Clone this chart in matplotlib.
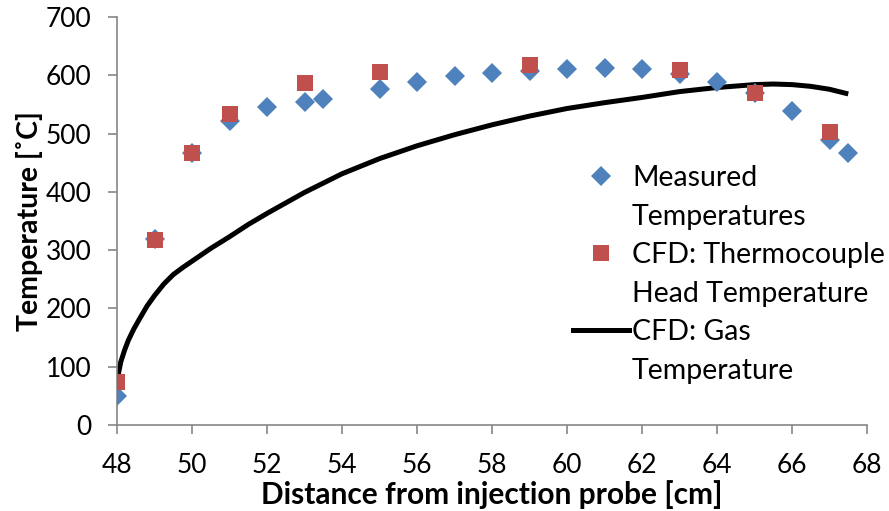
import matplotlib
matplotlib.use("Agg")
import matplotlib.pyplot as plt
from matplotlib.lines import Line2D

plt.rcParams['font.family'] = ['Lato', 'DejaVu Sans']

# Measured temperatures
meas_x = [48, 49, 50, 51, 52, 53, 53.5, 55, 56, 57, 58, 59, 60, 61, 62, 63, 64, 65, 66, 67, 67.5]
meas_y = [50, 319, 466, 522, 545, 555, 559, 577, 589, 599, 604, 607, 610, 612, 610, 603, 589, 569, 538, 489, 467]

# CFD: thermocouple head temperature
cfd_tc_x = [48, 49, 50, 51, 53, 55, 59, 63, 65, 67]
cfd_tc_y = [74, 318, 466, 533, 586, 605, 617, 609, 570, 503]

# CFD: gas temperature
gas_x = [48.0, 48.05, 48.1, 48.2, 48.3, 48.45, 48.6, 48.8, 49.0, 49.25, 49.5, 49.75, 50, 50.5,
         51, 51.5, 52, 53, 54, 55, 56, 57, 58, 59, 60, 61, 62, 63, 64, 65, 65.5, 66, 66.5, 67, 67.5]
gas_y = [75, 92, 108, 128, 145, 165, 182, 204, 222, 242, 258, 270, 281, 303,
         323, 344, 363, 399, 431, 457, 479, 498, 515, 530, 543,
         553, 562, 572, 579, 584, 585, 584, 581, 576, 568]

x_ticks = list(range(48, 69, 2))
y_ticks = list(range(0, 701, 100))

blue = '#4F81BD'
red = '#C0504D'
grey = '#868686'

fig = plt.figure(figsize=(8.89, 5.11), dpi=100)
ax = fig.add_axes([117/889, 1 - 425/511, 750/889, 408/511])

ax.plot(gas_x, gas_y, color='black', lw=3.6, zorder=2, solid_capstyle='butt')
ax.plot(meas_x, meas_y, linestyle='none', marker='D', ms=10, color=blue, mew=0, zorder=3)
ax.plot(cfd_tc_x, cfd_tc_y, linestyle='none', marker='s', ms=11, color=red, mew=0, zorder=4)

ax.set_xlim(48, 68)
ax.set_ylim(0, 700)
ax.set_xticks(x_ticks)
ax.set_yticks(y_ticks)
for s in ['top', 'right']:
    ax.spines[s].set_visible(False)
for s in ['left', 'bottom']:
    ax.spines[s].set_color(grey)
    ax.spines[s].set_linewidth(1.2)
ax.tick_params(axis='y', direction='out', length=6.5, width=1.2, color=grey,
               labelsize=19, labelcolor='black', pad=12)
ax.tick_params(axis='x', direction='out', length=6.5, width=1.2, color=grey,
               labelsize=19, labelcolor='black', pad=14)

ax.set_xlabel('Distance from injection probe [cm]', fontsize=21.5, fontweight='bold')
ax.xaxis.set_label_coords(0.5, (425 - 495) / 408, transform=ax.transAxes)
ax.xaxis.label.set_va('center')
ax.set_ylabel('Temperature [˚C]', fontsize=20.5, fontweight='bold', labelpad=2)

handles = [
    Line2D([], [], linestyle='none', marker='D', ms=10, color=blue, mew=0),
    Line2D([], [], linestyle='none'),
    Line2D([], [], linestyle='none', marker='s', ms=11, color=red, mew=0),
    Line2D([], [], linestyle='none'),
    Line2D([], [], color='black', lw=3.6),
    Line2D([], [], linestyle='none'),
]
labels = ['Measured', 'Temperatures', 'CFD: Thermocouple', 'Head Temperature',
          'CFD: Gas', 'Temperature']
leg = ax.legend(handles, labels, loc='upper left', bbox_to_anchor=(573/889, 1 - 165/511),
                bbox_transform=fig.transFigure, frameon=False, fontsize=20.5,
                handlelength=1.95, handletextpad=0.12, labelspacing=0.44, borderpad=0,
                borderaxespad=0)

fig.savefig('out.png', dpi=100)
